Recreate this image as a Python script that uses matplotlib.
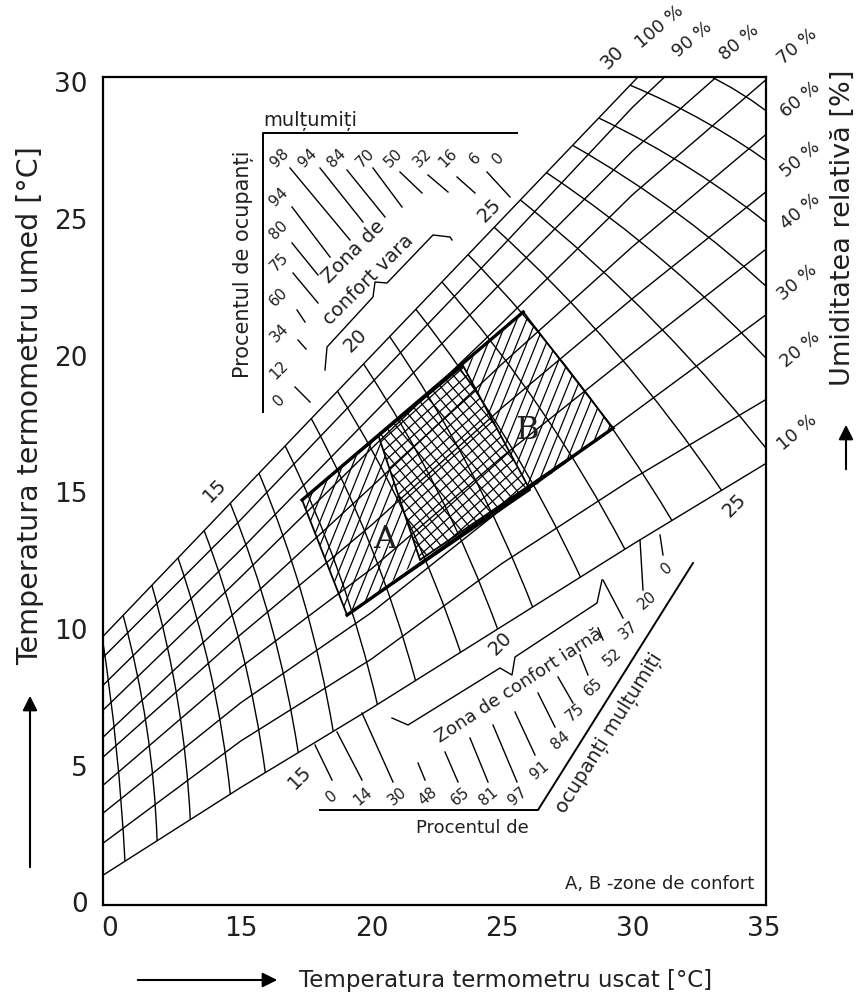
import numpy as np
import matplotlib
matplotlib.use("Agg")
import matplotlib.pyplot as plt
from matplotlib.patches import Polygon, PathPatch, FancyArrowPatch
from matplotlib.path import Path
from matplotlib.collections import LineCollection

plt.rcParams["font.family"] = ["DejaVu Sans"]

W, H = 859, 996
ink = "#202020"

# dry-bulb points used for the relative humidity curves (deg C)
tdb_grid = [9.73, 15, 20, 25, 30, 35.1, 40]
# wet-bulb temperature along each relative humidity curve (deg C)
rh_100 = [9.73, 15.0, 20.0, 25.0, 30.0, 35.1, 40.0]
rh_90 = [8.96, 14.0, 19.0, 24.0, 29.1, 33.7, 38.2]
rh_80 = [7.94, 12.9, 17.8, 22.7, 27.5, 31.8, 36.1]
rh_70 = [7.03, 11.9, 16.6, 21.2, 25.9, 30.1, 34.0]
rh_60 = [6.04, 10.8, 15.2, 19.7, 24.0, 28.1, 31.8]
rh_50 = [5.31, 9.8, 13.8, 18.1, 22.1, 26.0, 29.5]
rh_40 = [4.28, 8.6, 12.2, 16.3, 20.1, 23.9, 27.1]
rh_30 = [3.26, 7.3, 10.6, 14.4, 17.9, 21.5, 24.5]
rh_20 = [2.16, 5.9, 8.9, 12.4, 15.5, 18.4, 21.5]
rh_10 = [0.99, 4.2, 7.1, 10.1, 13.1, 16.06, 18.6]
rh_curves = [rh_100, rh_90, rh_80, rh_70, rh_60, rh_50, rh_40, rh_30, rh_20, rh_10]

# effective temperature lines (10 ... 31): start on the saturation curve,
# bend point, end on the 10 % curve or past the right border
et_start = [9.7, 10.5, 11.6, 12.6, 13.6, 14.6, 15.7, 16.7, 17.7, 18.7, 19.7,
            20.7, 21.7, 22.7, 23.7, 24.7, 25.7, 26.7, 27.7, 28.7, 29.9, 32.6]
et_start_twb = [9.7, 10.5, 11.6, 12.6, 13.6, 14.6, 15.7, 16.7, 17.7, 18.7, 19.7,
                20.7, 21.7, 22.7, 23.7, 24.7, 25.7, 26.7, 27.7, 28.7, 29.9, 30.4]
et_ctrl_tdb = [10.35, 11.65, 12.85, 14.12, 15.30, 16.45, 17.69, 19.03, 20.27, 21.63, 22.85,
               24.03, 25.44, 26.79, 28.18, 29.63, 31.23, 31.59, 31.99, 32.40, 32.94, 34.21]
et_ctrl_twb = [5.65, 6.45, 7.40, 8.40, 9.32, 10.20, 11.15, 12.18, 13.14, 14.21, 15.16,
               16.08, 17.18, 18.23, 19.30, 20.41, 21.44, 23.58, 25.37, 27.01, 28.69, 29.68]
et_end_tdb = [10.57, 11.80, 13.07, 14.60, 15.94, 17.20, 18.54, 20.23, 21.69, 23.41, 24.83,
              26.17, 28.00, 29.70, 31.50, 33.40, 35.60, 35.60, 35.60, 35.60, 35.60, 35.60]
et_end_twb = [1.50, 2.25, 3.02, 3.96, 4.75, 5.48, 6.25, 7.24, 8.11, 9.15, 10.00,
              10.80, 11.90, 12.92, 13.97, 15.07, 16.00, 19.40, 22.10, 24.50, 26.80, 28.60]

# comfort zones, corners (dry-bulb, wet-bulb): top-left, top-right, bottom-right, bottom-left
zone_a_tdb = [17.35, 23.51, 26.07, 19.07]
zone_a_twb = [14.72, 19.63, 15.09, 10.51]
zone_b_tdb = [20.26, 25.81, 29.25, 21.86]
zone_b_twb = [17.10, 21.60, 17.35, 12.53]

# percentage of satisfied occupants
summer_top = ["98", "94", "84", "70", "50", "32", "16", "6", "0"]
summer_left = ["94", "80", "75", "60", "34", "12", "0"]
winter_bottom = ["0", "14", "30", "48", "65", "81", "97"]
winter_side = ["91", "84", "75", "65", "52", "37", "20", "0"]
rh_names = ["100 %", "90 %", "80 %", "70 %", "60 %", "50 %", "40 %", "30 %", "20 %", "10 %"]

x_ticks = [10, 15, 20, 25, 30, 35]
x_labels = ["0", "15", "20", "25", "30", "35"]
y_ticks = [0, 5, 10, 15, 20, 25, 30]

fig = plt.figure(figsize=(W / 100, H / 100), dpi=100)
ax = fig.add_axes([103 / W, 1 - 905 / H, 663 / W, 828 / H])
ax.set_xlim(9.73, 35.1)
ax.set_ylim(-0.1, 30.2)

for curve in rh_curves:
    ax.plot(tdb_grid, curve, color="k", lw=1.0, zorder=1)

for i in range(len(et_start)):
    verts = [(et_start[i], et_start_twb[i]), (et_ctrl_tdb[i], et_ctrl_twb[i]),
             (et_end_tdb[i], et_end_twb[i])]
    path = Path(verts, [Path.MOVETO, Path.CURVE3, Path.CURVE3])
    ax.add_patch(PathPatch(path, fill=False, edgecolor="k", lw=1.0, zorder=1))


def hatch(poly, angle, step, lw=0.9):
    patch = Polygon(poly, closed=True, transform=ax.transData,
                    fill=False, edgecolor="none")
    ax.add_patch(patch)
    pts = ax.transData.transform(poly)
    c = pts.mean(axis=0)
    r = np.hypot(*(pts - c).T).max() + step
    d = np.array([np.cos(np.radians(angle)), np.sin(np.radians(angle))])
    n = np.array([-d[1], d[0]])
    inv = ax.transData.inverted()
    segs = [inv.transform([c + k * n - r * d, c + k * n + r * d])
            for k in np.arange(-r, r + step, step)]
    lc = LineCollection(segs, colors="k", linewidths=lw, zorder=3)
    ax.add_collection(lc, autolim=False)
    lc.set_clip_path(patch)


za = np.column_stack([zone_a_tdb, zone_a_twb])
zb = np.column_stack([zone_b_tdb, zone_b_twb])
a_only = np.array([za[0], zb[0], zb[3], za[3]])
both = np.array([zb[0], za[1], za[2], zb[3]])
b_only = np.array([za[1], zb[1], zb[2], za[2]])

hatch(a_only, 68, 9)
hatch(b_only, 68, 9)
hatch(both, 42, 8.5)
hatch(both, -50, 8.5)

for poly in (za, zb):
    ax.add_patch(Polygon(poly, closed=True, fill=False, edgecolor="k", lw=1.3, zorder=4))
ax.plot([za[0, 0], zb[1, 0]], [za[0, 1], zb[1, 1]], color="k", lw=2.4, zorder=4)
ax.plot([za[3, 0], zb[2, 0]], [za[3, 1], zb[2, 1]], color="k", lw=2.4, zorder=4)

ax.set_xticks(x_ticks)
ax.set_xticklabels(x_labels)
ax.set_yticks(y_ticks)
ax.tick_params(length=0, labelsize=19, colors=ink)
ax.tick_params(axis="x", pad=8)
ax.tick_params(axis="y", pad=11)
for s in ax.spines.values():
    s.set_linewidth(1.6)


def label(x, y, s, size=11, rot=0, **kw):
    fig.text(x / W, 1 - y / H, s, fontsize=size, rotation=rot, ha="center",
             va="center", color=ink, rotation_mode="anchor", **kw)


def pxline(xs, ys, lw=1.0):
    fig.add_artist(plt.Line2D(np.array(xs) / W, 1 - np.array(ys) / H, color="k",
                              lw=lw, transform=fig.transFigure))


def arrow(x0, y0, x1, y1):
    fig.add_artist(FancyArrowPatch(
        (x0 / W, 1 - y0 / H), (x1 / W, 1 - y1 / H), transform=fig.transFigure,
        arrowstyle="-|>", mutation_scale=22, lw=1.5, color="k"))


# axis titles and arrows
label(30, 406, "Temperatura termometru umed [°C]", 20.5, 90)
label(506, 980, "Temperatura termometru uscat [°C]", 16.5)
label(843, 228, "Umiditatea relativă [%]", 19.5, 90)
arrow(30, 870, 30, 693)
arrow(135, 980, 280, 980)
arrow(846, 472, 846, 422)

# relative humidity labels
rh_pos = [(660, 27), (692, 40), (739, 43), (797, 47), (800, 100), (800, 160),
          (800, 212), (797, 283), (800, 350), (797, 433)]
for name, (x, y) in zip(rh_names, rh_pos):
    label(x, y, name, 13, 40)

# effective temperature labels
for s, (x, y) in zip(["15", "20", "25", "30", "15", "20", "25"],
                     [(215, 490), (355, 340), (490, 210), (612, 57),
                      (300, 777), (500, 643), (735, 505)]):
    label(x, y, s, 14, 45)

label(385, 540, "A", 23, 0, family="DejaVu Serif")
label(527, 430, "B", 23, 0, family="DejaVu Serif")
label(660, 884, "A, B -zone de confort", 13)

# summer scale
label(310, 121, "mulțumiți", 14)
label(243, 264, "Procentul de ocupanți", 15, 90)
pxline([263, 263, 517], [412, 133, 133], 1.4)
for s, x in zip(summer_top, [280, 308, 337, 365, 393, 422, 448, 475, 498]):
    label(x, 158, s, 11, 45)
for s, y in zip(summer_left, [197, 230, 262, 297, 333, 370, 400]):
    label(279, y, s, 11, 45)
summer_ticks = [((290, 168), (350, 240)), ((292, 207), (330, 257)), ((292, 243), (318, 275)),
                ((293, 273), (318, 303)), ((297, 310), (305, 322)), ((298, 340), (306, 349)),
                ((295, 387), (310, 402)), ((320, 168), (363, 222)), ((347, 170), (385, 217)),
                ((373, 168), (402, 207)), ((400, 172), (422, 193)), ((428, 175), (448, 192)),
                ((457, 177), (475, 193)), ((487, 172), (510, 197))]
for (x0, y0), (x1, y1) in summer_ticks:
    pxline([x0, x1], [y0, y1])
pxline([325, 327, 373, 375, 387, 433, 450, 452],
       [370, 347, 297, 282, 283, 235, 237, 240])
label(353, 252, "Zona de", 14, 45)
label(368, 280, "confort vara", 14, 45)

# winter scale
pxline([320, 538, 693], [810, 810, 563], 1.4)
label(472, 828, "Procentul de", 13)
label(610, 733, "ocupanți mulțumiți", 14, 58)
for s, x in zip(winter_bottom, [332, 363, 397, 428, 460, 488, 518]):
    label(x, 796, s, 11, 40)
for s, (x, y) in zip(winter_side, [(540, 770), (560, 740), (575, 712), (593, 687),
                                   (612, 657), (628, 630), (647, 600), (667, 568)]):
    label(x, y, s, 11, 40)
winter_ticks = [((315, 745), (332, 780)), ((337, 732), (362, 780)), ((362, 713), (393, 782)),
                ((418, 763), (425, 780)), ((445, 752), (458, 782)), ((470, 738), (488, 782)),
                ((493, 725), (517, 782)), ((515, 712), (535, 755)), ((538, 693), (555, 727)),
                ((558, 677), (573, 703)), ((580, 655), (588, 675)), ((598, 628), (603, 640)),
                ((603, 580), (623, 618)), ((640, 540), (643, 590)), ((660, 535), (663, 555))]
for (x0, y0), (x1, y1) in winter_ticks:
    pxline([x0, x1], [y0, y1])
pxline([392, 408, 500, 512, 515, 597, 602], [718, 725, 668, 675, 657, 603, 580])
label(519, 686, "Zona de confort iarnă", 13, 33)

fig.savefig("out.png", dpi=100, facecolor="white")
